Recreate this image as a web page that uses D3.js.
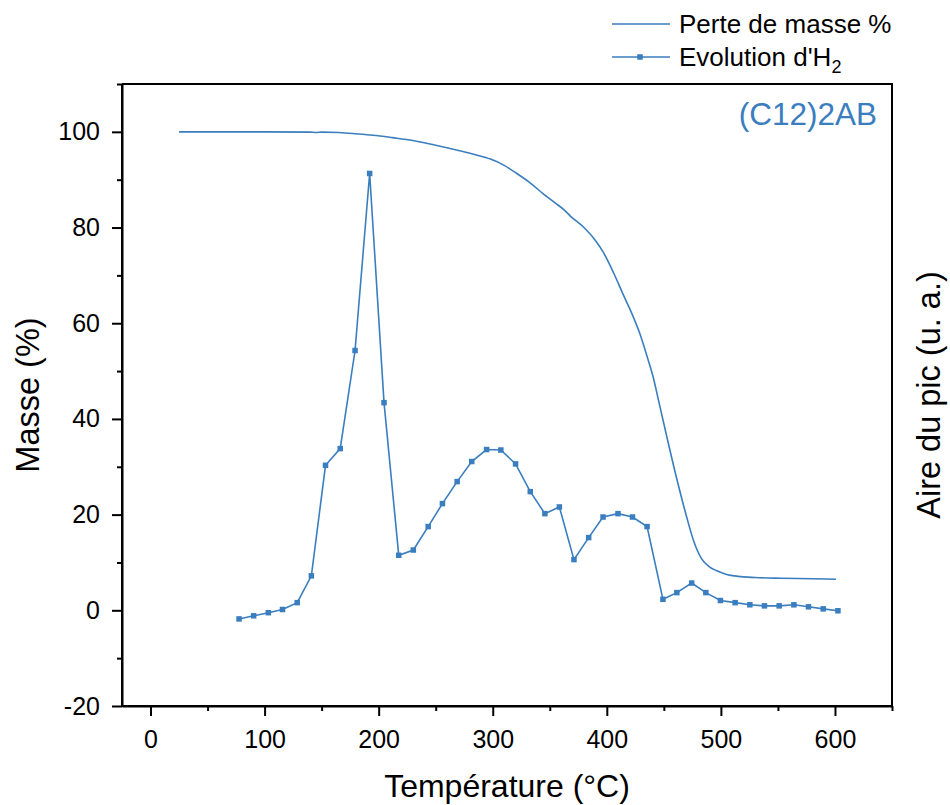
<!DOCTYPE html>
<html>
<head>
<meta charset="utf-8">
<script src="https://cdn.jsdelivr.net/npm/d3@7"></script>
<style>
  html, body { margin: 0; padding: 0; background: #fff; }
  svg { display: block; font-family: "Liberation Sans", Arial, sans-serif; }
</style>
</head>
<body>
<svg id="chart" width="950" height="805"></svg>
<script>
// ---- Data ----
const massTemp = [25, 60, 100, 140, 145, 150, 165, 180, 195, 212, 230, 250, 270, 285, 298, 310, 321, 333, 344, 355, 363, 368, 380, 390, 397, 406, 414, 422, 429, 436, 441, 444, 452, 461, 470, 476, 483, 490, 496, 505, 515, 530, 553, 580, 601];
const massValue = [100, 100, 100, 99.95, 99.85, 99.95, 99.85, 99.6, 99.3, 98.8, 98.2, 97.2, 96.1, 95.2, 94.3, 93.0, 91.3, 89.3, 87.1, 85.1, 83.6, 82.4, 80.0, 77.3, 74.8, 70.5, 66.2, 62.0, 57.8, 52.5, 48.4, 45.3, 36.9, 27.8, 19.5, 14.6, 10.8, 9.1, 8.3, 7.5, 7.1, 6.85, 6.7, 6.6, 6.5];

const h2Temp = [77.6, 90.4, 103.3, 115.7, 128.6, 141.0, 153.4, 166.3, 179.3, 192.1, 204.7, 217.6, 230.4, 243.4, 255.9, 268.8, 281.6, 294.6, 307.1, 320.0, 332.9, 345.7, 358.4, 371.2, 384.1, 396.7, 409.8, 422.5, 435.3, 449.2, 461.4, 474.4, 486.8, 499.6, 512.5, 525.4, 538.2, 551.1, 564.0, 576.8, 589.7, 602.6];
const h2Value = [-1.8, -1.15, -0.5, 0.17, 1.6, 7.2, 30.3, 33.8, 54.3, 91.3, 43.4, 11.5, 12.6, 17.5, 22.3, 26.9, 31.1, 33.6, 33.5, 30.6, 24.8, 20.2, 21.6, 10.6, 15.2, 19.5, 20.2, 19.5, 17.5, 2.3, 3.7, 5.7, 3.7, 2.05, 1.6, 1.15, 0.93, 0.93, 1.15, 0.73, 0.3, -0.1];

const xTicks = [0, 100, 200, 300, 400, 500, 600];
const xMinorTicks = [50, 150, 250, 350, 450, 550, 650];
const yTicks = [-20, 0, 20, 40, 60, 80, 100];
const yMinorTicks = [-10, 10, 30, 50, 70, 90, 110];

const seriesNames = ["Perte de masse %", "Evolution d'H"];
const sampleLabel = "(C12)2AB";
const xTitle = "Température (°C)";
const yTitle = "Masse (%)";
const y2Title = "Aire du pic (u. a.)";

// ---- Layout ----
const color = "#3a7ebf";
const pL = 122, pR = 892, pT = 84, pB = 706;

const svg = d3.select("#chart");
const x = d3.scaleLinear().domain([-25, 650]).range([pL, pR]);
const y = d3.scaleLinear().domain([-20, 110]).range([pB, pT]);
const fmt = d => String(d);

// frame (top + right)
svg.append("path")
  .attr("d", `M${pL},${pT}H${pR}V${pB}`)
  .attr("fill", "none").attr("stroke", "#000").attr("stroke-width", 2);

// x axis
const gx = svg.append("g").attr("transform", `translate(0,${pB})`);
gx.call(d3.axisBottom(x).tickValues(xTicks).tickFormat(fmt).tickSize(10).tickSizeOuter(0).tickPadding(14));
const gxm = svg.append("g").attr("transform", `translate(0,${pB})`);
gxm.call(d3.axisBottom(x).tickValues(xMinorTicks).tickSize(5).tickSizeOuter(0).tickFormat(""));

// y axis
const gy = svg.append("g").attr("transform", `translate(${pL},0)`);
gy.call(d3.axisLeft(y).tickValues(yTicks).tickFormat(fmt).tickSize(10).tickSizeOuter(0).tickPadding(12));
const gym = svg.append("g").attr("transform", `translate(${pL},0)`);
gym.call(d3.axisLeft(y).tickValues(yMinorTicks).tickSize(5).tickSizeOuter(0).tickFormat(""));

[gx, gxm, gy, gym].forEach(g => {
  g.selectAll(".domain").attr("stroke", "#000").attr("stroke-width", 2);
  g.selectAll(".tick line").attr("stroke", "#000").attr("stroke-width", 2);
  g.selectAll(".tick text").attr("fill", "#000").style("font-size", "25px")
    .style("font-family", "'Liberation Sans', Arial, sans-serif");
});
gx.selectAll(".domain").attr("d", `M${pL},0H${pR}`);
gy.selectAll(".domain").attr("d", `M0,${pT}V${pB}`);

// mass line
const massData = massTemp.map((t, i) => [t, massValue[i]]);
svg.append("path")
  .datum(massData)
  .attr("fill", "none").attr("stroke", color).attr("stroke-width", 1.6)
  .attr("d", d3.line().x(d => x(d[0])).y(d => y(d[1])).curve(d3.curveMonotoneX));

// H2 line + markers
const h2Data = h2Temp.map((t, i) => [t, h2Value[i]]);
svg.append("path")
  .datum(h2Data)
  .attr("fill", "none").attr("stroke", color).attr("stroke-width", 1.6)
  .attr("d", d3.line().x(d => x(d[0])).y(d => y(d[1])));
const ms = 5.5;
svg.append("g").selectAll("rect").data(h2Data).join("rect")
  .attr("x", d => x(d[0]) - ms / 2).attr("y", d => y(d[1]) - ms / 2)
  .attr("width", ms).attr("height", ms).attr("fill", color);

// sample label
svg.append("text").attr("x", 877).attr("y", 125).attr("text-anchor", "end")
  .attr("fill", color).style("font-size", "31.5px").text(sampleLabel);

// axis titles
svg.append("text").attr("x", (pL + pR) / 2).attr("y", 797).attr("text-anchor", "middle")
  .style("font-size", "32px").text(xTitle);
svg.append("text").attr("transform", `translate(39,${(pT + pB) / 2}) rotate(-90)`)
  .attr("text-anchor", "middle").style("font-size", "32.5px").text(yTitle);
svg.append("text").attr("transform", `translate(940,${(pT + pB) / 2}) rotate(-90)`)
  .attr("text-anchor", "middle").style("font-size", "32.5px").text(y2Title);

// legend
const lg = svg.append("g");
lg.append("line").attr("x1", 612).attr("x2", 670).attr("y1", 24).attr("y2", 24)
  .attr("stroke", color).attr("stroke-width", 1.6);
lg.append("text").attr("x", 679).attr("y", 33).style("font-size", "26px").text(seriesNames[0]);
lg.append("line").attr("x1", 612).attr("x2", 670).attr("y1", 57).attr("y2", 57)
  .attr("stroke", color).attr("stroke-width", 1.6);
lg.append("rect").attr("x", 640 - ms / 2).attr("y", 57 - ms / 2).attr("width", ms).attr("height", ms).attr("fill", color);
const t2 = lg.append("text").attr("x", 679).attr("y", 66).style("font-size", "26px");
t2.append("tspan").text(seriesNames[1]);
t2.append("tspan").attr("dy", 7).style("font-size", "18px").text("2");
</script>
</body>
</html>
